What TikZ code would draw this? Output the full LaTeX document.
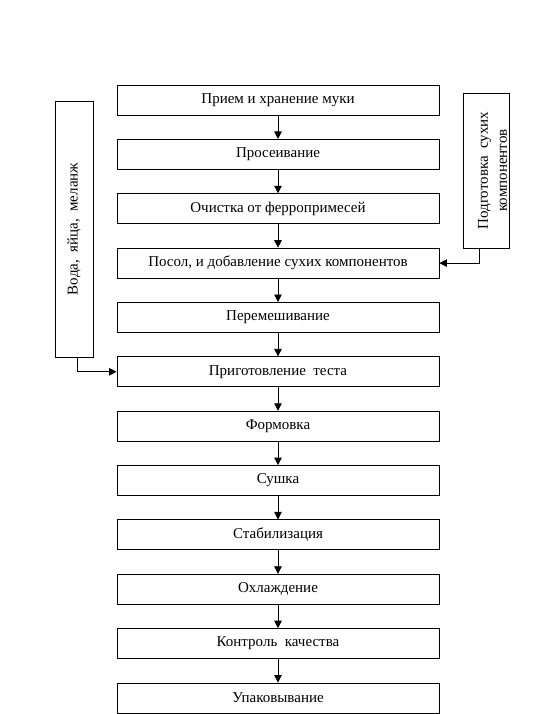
\documentclass[tikz,border=0pt]{standalone}
\usepackage{fontspec}
\setmainfont{Liberation Serif}
\usetikzlibrary{arrows.meta}
\begin{document}
\begin{tikzpicture}[x=1pt,y=-1pt,
  txt/.style={font=\fontsize{15}{19}\selectfont},
  stepbox/.style={draw, line width=0.8pt, minimum width=322pt, minimum height=30pt, inner sep=0pt, txt},
  sidebox/.style={draw, line width=0.8pt, inner sep=0pt, rotate=90, txt},
  flow/.style={draw, line width=0.8pt, -{Triangle[length=7.5pt,width=7.5pt]}}]
\useasboundingbox (0,0) rectangle (546,714);
\foreach \t [count=\i] in {Прием и хранение муки, Просеивание, Очистка от ферропримесей, {Посол, и добавление сухих компонентов}, Перемешивание, Приготовление\ \ теста, Формовка, Сушка, Стабилизация, Охлаждение, Контроль\ \ качества, Упаковывание}
  \node[stepbox] (b\i) at (278, {100+54.36*(\i-1)}) {\t};
\foreach \i [evaluate=\i as \j using int(\i+1)] in {1,...,11}
  \draw[flow] (b\i) -- (b\j);
% left side box
\node[sidebox, minimum width=256pt, minimum height=38pt] (water) at (74,229) {Вода,\ \ яйца,\ \ меланж};
\draw[flow] ([xshift=3.5pt]water.west) |- (b6.west);
% right side box
\node[sidebox, minimum width=155pt, minimum height=46pt] (dry) at (486,170.5) {};
\begin{scope}
  \clip (dry.north west) rectangle (dry.south east);
  \node[rotate=90, align=center, inner sep=0pt, txt] (drytext) at ([xshift=6.5pt]dry.center) {Подготовка\ \ сухих\\компонентов};
\end{scope}
\draw[flow] ([xshift=-7pt]dry.west) |- (b4.east);
\end{tikzpicture}
\end{document}
